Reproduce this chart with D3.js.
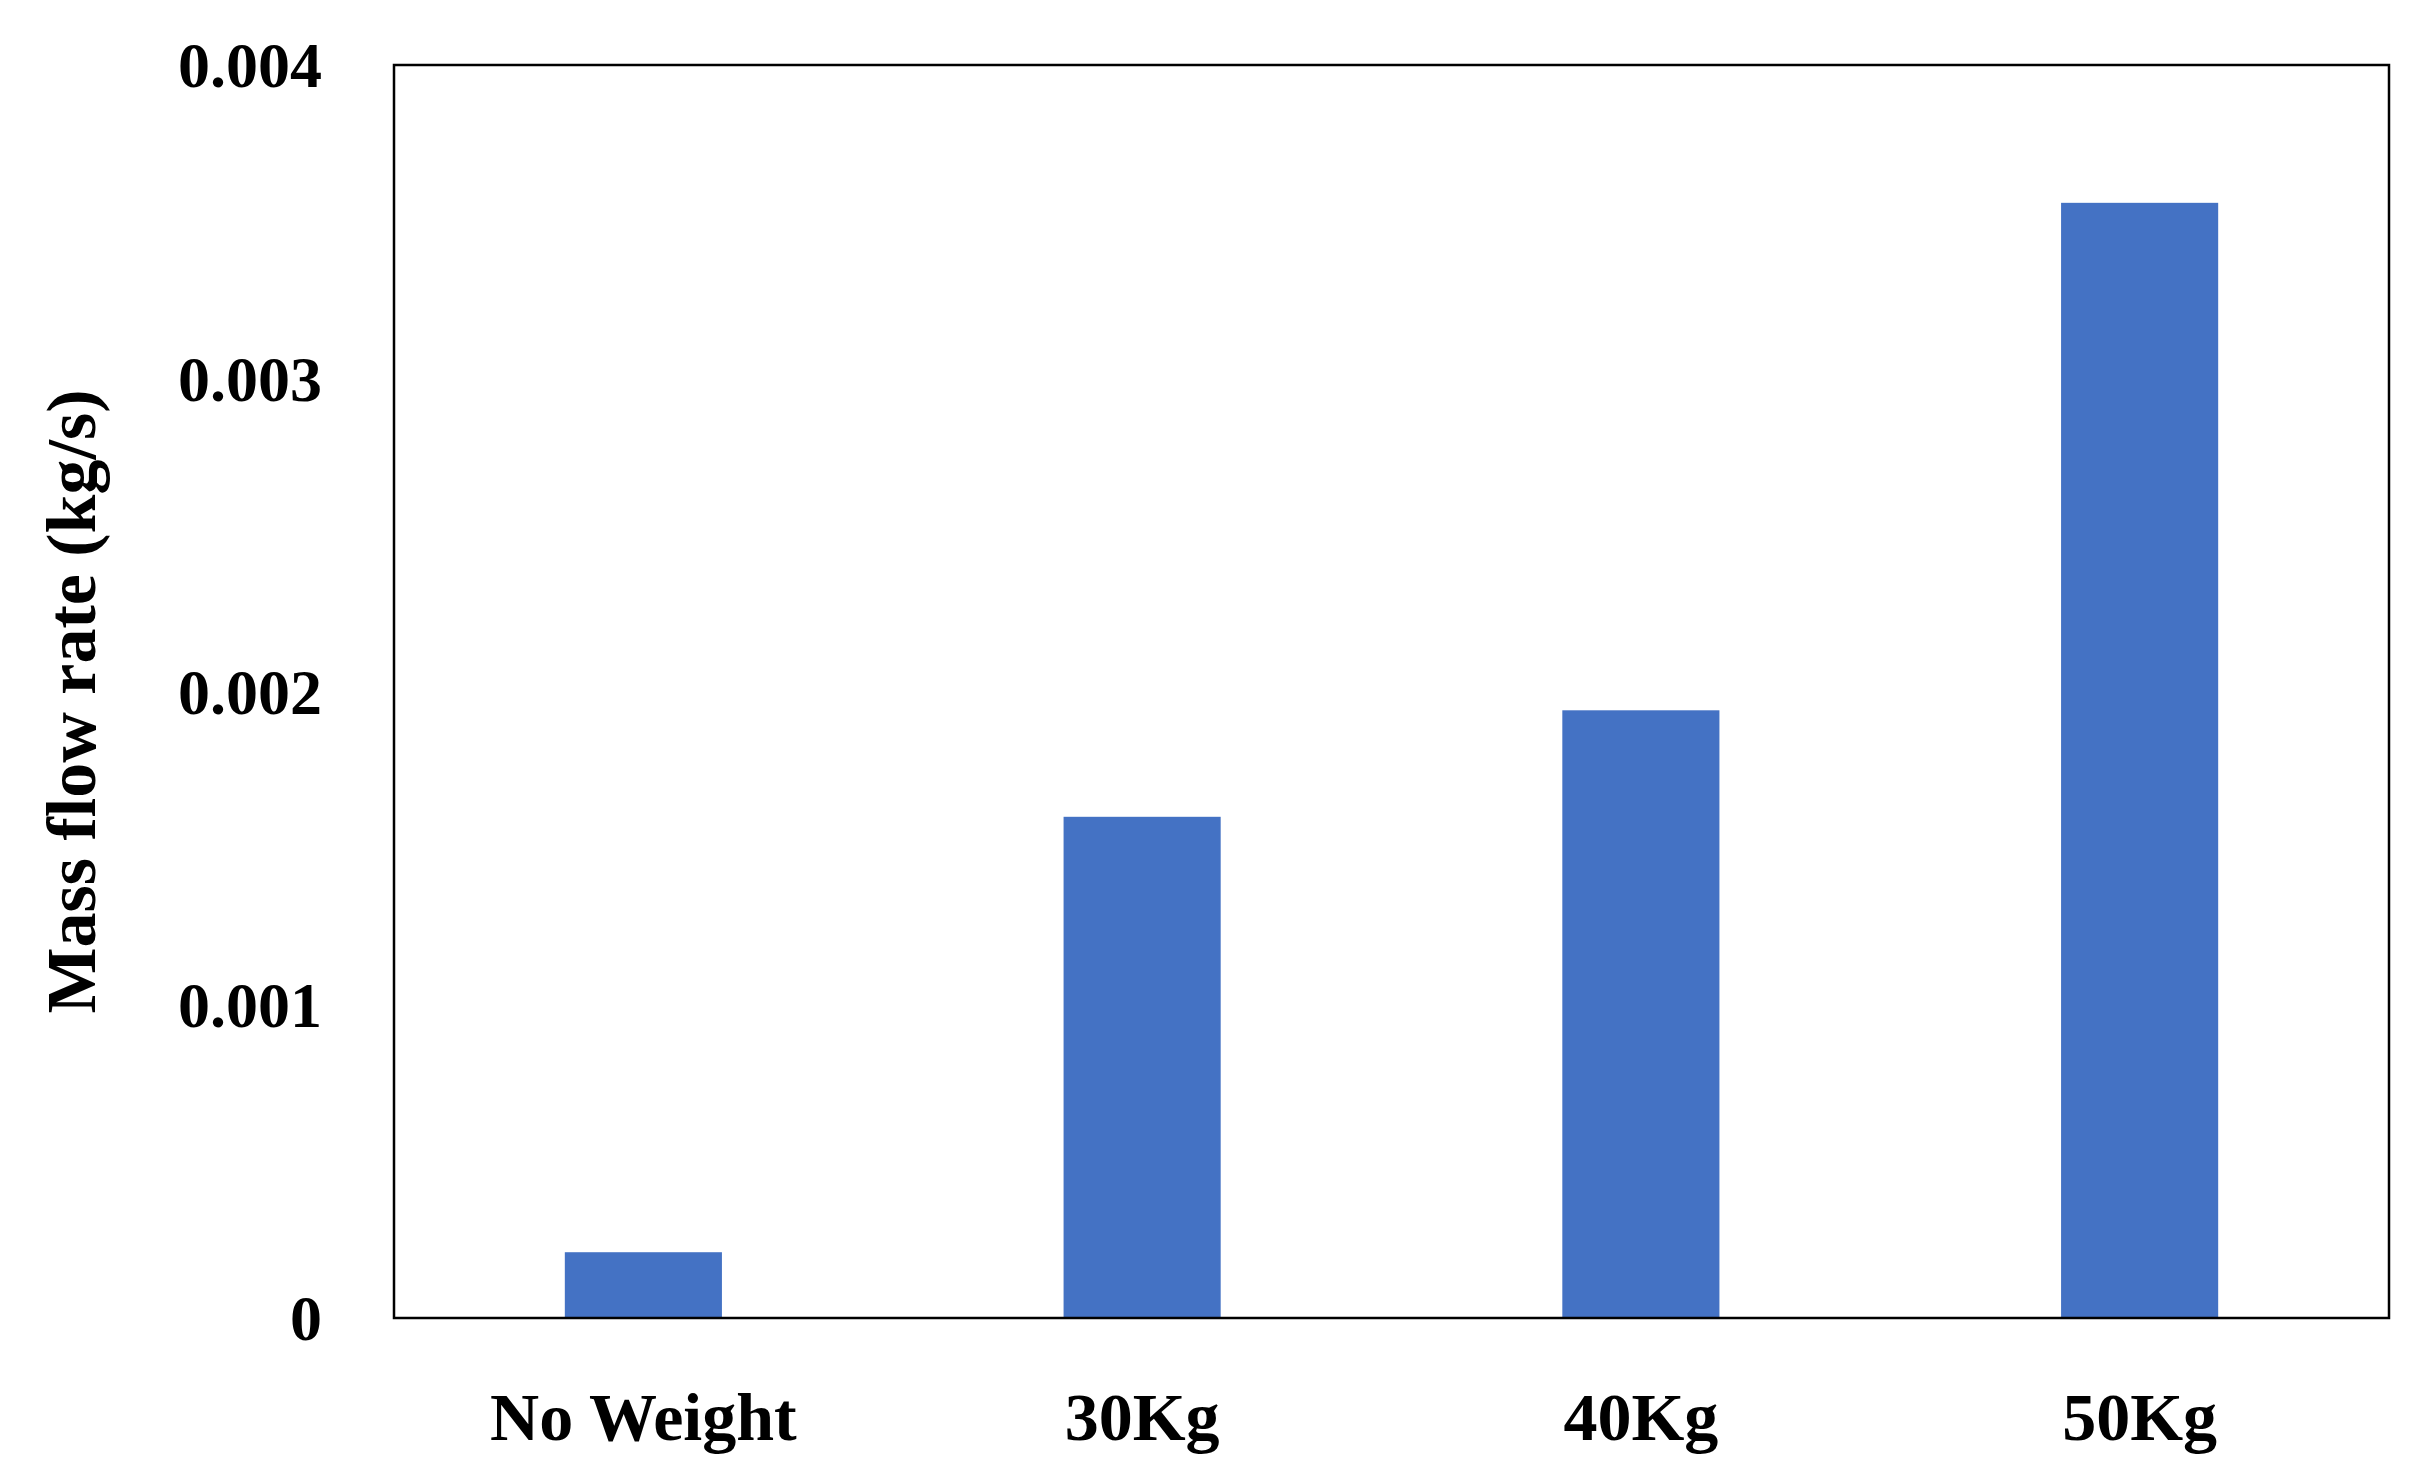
<!DOCTYPE html>
<html>
<head>
<meta charset="utf-8">
<title>Mass flow rate</title>
<script src="https://cdn.jsdelivr.net/npm/d3@7"></script>
<style>
  body { margin:0; background:white; }
  text { font-family:"Liberation Serif", "Times New Roman", serif; font-weight:bold; fill:black; }
</style>
</head>
<body>
<svg id="chart" width="2422" height="1473"></svg>
<script>
// data
var categories = ["No Weight", "30Kg", "40Kg", "50Kg"];
var flowRates = [0.00021, 0.0016, 0.00194, 0.00356];
var yTicks = [0, 0.001, 0.002, 0.003, 0.004];
var yTickLabels = ["0", "0.001", "0.002", "0.003", "0.004"];

var plotLeft = 394, plotRight = 2389, plotTop = 65, plotBottom = 1318;
var svg = d3.select("#chart");

var x = d3.scaleBand().domain(categories).range([plotLeft, plotRight])
  .paddingInner(0.685).paddingOuter(0.3425);
var y = d3.scaleLinear().domain([0, 0.004]).range([plotBottom, plotTop]);

svg.selectAll("rect.bar").data(flowRates).enter().append("rect")
  .attr("class", "bar")
  .attr("x", function(d, i) { return x(categories[i]); })
  .attr("y", function(d) { return y(d); })
  .attr("width", x.bandwidth())
  .attr("height", function(d) { return plotBottom - y(d); })
  .attr("fill", "#4472C4");

// frame
svg.append("rect").attr("x", plotLeft).attr("y", plotTop)
  .attr("width", plotRight - plotLeft).attr("height", plotBottom - plotTop)
  .attr("fill", "none").attr("stroke", "black").attr("stroke-width", 2.5);

// y tick labels
svg.selectAll("text.ytick").data(yTicks).enter().append("text")
  .attr("class", "ytick")
  .attr("x", 322)
  .attr("y", function(d) { return y(d); })
  .attr("dy", "0.35em")
  .attr("text-anchor", "end")
  .attr("font-size", 64)
  .text(function(d, i) { return yTickLabels[i]; });

// category labels
svg.selectAll("text.xtick").data(categories).enter().append("text")
  .attr("class", "xtick")
  .attr("x", function(d) { return x(d) + x.bandwidth() / 2; })
  .attr("y", 1416)
  .attr("dy", "0.35em")
  .attr("text-anchor", "middle")
  .attr("font-size", 68)
  .text(function(d) { return d; });

// y axis title
svg.append("text")
  .attr("transform", "translate(70," + ((plotTop + plotBottom) / 2 + 10) + ") rotate(-90)")
  .attr("dy", "0.35em")
  .attr("text-anchor", "middle")
  .attr("font-size", 70)
  .text("Mass flow rate (kg/s)");
</script>
</body>
</html>
